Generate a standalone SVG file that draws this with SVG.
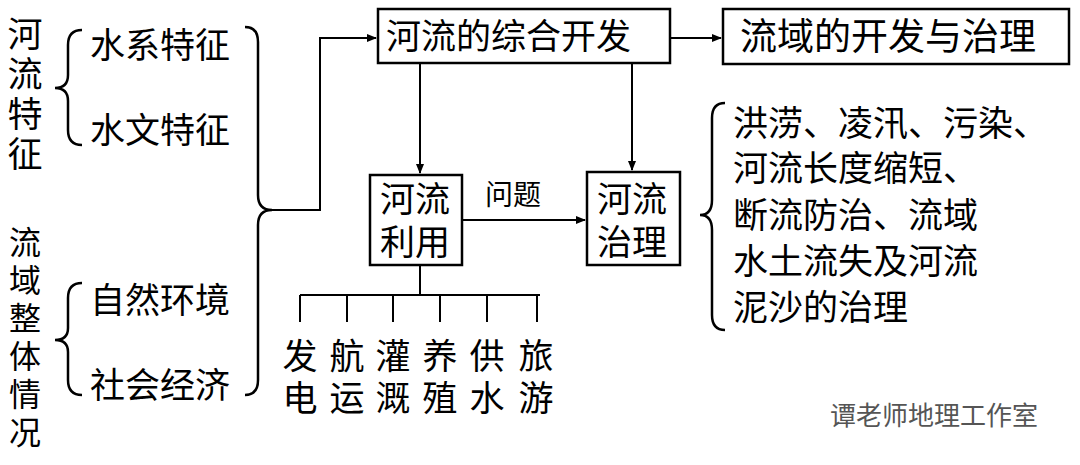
<svg xmlns="http://www.w3.org/2000/svg" width="1080" height="465" viewBox="0 0 1080 465">
<style>
text{font-family:"Noto Sans CJK SC","Noto Sans",sans-serif;font-size:35px;fill:#000}
.vt{writing-mode:vertical-rl;text-orientation:upright}
.b{fill:#fff;stroke:#000;stroke-width:2.5}
.l{fill:none;stroke:#000;stroke-width:2}
.br{fill:none;stroke:#000;stroke-width:2.5}
</style>
<defs><marker id="a" markerWidth="10" markerHeight="8" refX="9" refY="4" orient="auto" markerUnits="userSpaceOnUse"><path d="M0,0L10,4L0,8z" fill="#000"/></marker></defs>
<rect width="1080" height="465" fill="#fff"/>
<g id="left1"><text class="vt" x="25" y="16" style="letter-spacing:5px">河流特征</text></g>
<g id="left2"><text class="vt" x="25" y="226" style="font-size:32px;letter-spacing:6px">流域整体情况</text></g>
<g id="braces">
<path class="br" d="M82,30 Q68,30 68,45 L68,75 Q68,88 55,88 Q68,88 68,101 L68,130 Q68,145 82,145"/>
<path class="br" d="M82,283 Q68,283 68,298 L68,328 Q68,340 55,340 Q68,340 68,352 L68,380 Q68,395 82,395"/>
<path class="br" d="M245,27 Q258,27 258,42 L258,195 Q258,210 272,210 Q258,210 258,225 L258,380 Q258,395 245,395"/>
<path class="br" d="M725,103 Q712,103 712,118 L712,200 Q712,215 700,215 Q712,215 712,230 L712,315 Q712,330 725,330"/>
</g>
<g id="leftitems"><text x="90" y="58">水系特征</text><text x="90" y="143">水文特征</text><text x="90" y="313">自然环境</text><text x="90" y="398">社会经济</text></g>
<g id="connectors">
<path class="l" d="M272,210 H320 V38 H376" marker-end="url(#a)"/>
<path class="l" d="M670,38 H721" marker-end="url(#a)"/>
<path class="l" d="M420,62 V173" marker-end="url(#a)"/>
<path class="l" d="M632,62 V170" marker-end="url(#a)"/>
<path class="l" d="M462,220 H585" marker-end="url(#a)"/>
<path class="l" d="M420,265 V295 M300,295 H540 M300,295 V322 M347,295 V322 M393,295 V322 M440,295 V322 M487,295 V322 M537,295 V322"/>
<text x="485" y="205" style="font-size:28px">问题</text>
</g>
<g id="n1"><rect class="b" x="378" y="9" width="292" height="54"/><text x="386" y="49">河流的综合开发</text></g>
<g id="n2"><rect class="b" x="723" y="9" width="346" height="55"/><text x="740" y="50" style="font-size:37px">流域的开发与治理</text></g>
<g id="n3"><rect class="b" x="370" y="175" width="92" height="90"/><text x="380" y="212">河流<tspan x="380" y="255">利用</tspan></text></g>
<g id="n4"><rect class="b" x="587" y="172" width="93" height="93"/><text x="597" y="212">河流<tspan x="597" y="255">治理</tspan></text></g>
<g id="problems"><text x="733" y="136">洪涝、凌汛、污染、<tspan x="733" y="181">河流长度缩短、</tspan><tspan x="733" y="228">断流防治、流域</tspan><tspan x="733" y="274">水土流失及河流</tspan><tspan x="733" y="320">泥沙的治理</tspan></text></g>
<g id="uses" style="letter-spacing:7px"><text class="vt" x="300" y="338">发电</text><text class="vt" x="347" y="338">航运</text><text class="vt" x="393" y="338">灌溉</text><text class="vt" x="440" y="338">养殖</text><text class="vt" x="487" y="338">供水</text><text class="vt" x="536" y="338">旅游</text></g>
<text x="830" y="425" style="font-size:26px;fill:#555">谭老师地理工作室</text>
</svg>
